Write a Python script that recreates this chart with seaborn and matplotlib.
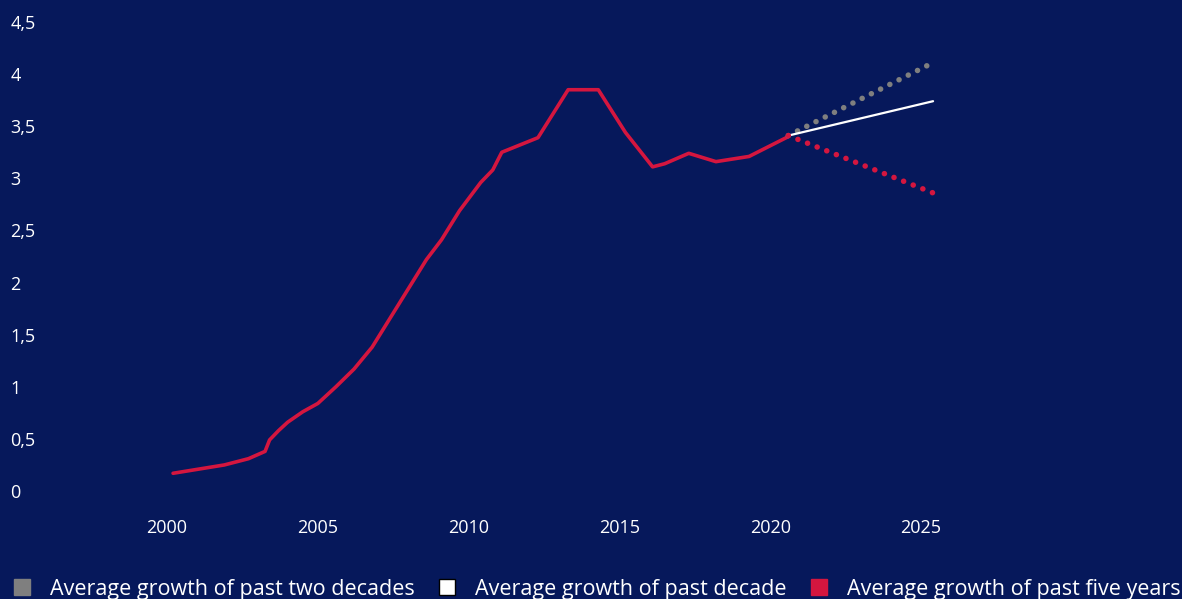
import pandas as pd
import matplotlib.pyplot as plt
import seaborn as sns
from matplotlib.lines import Line2D

# historical series
years = [2000.2, 2001.9, 2002.7, 2003.25, 2003.4, 2003.7, 2004.0, 2004.5, 2005.0, 2005.6,
         2006.2, 2006.8, 2007.7, 2008.6, 2009.1, 2009.7, 2010.4, 2010.8, 2011.1, 2012.3,
         2013.3, 2014.3, 2015.2, 2016.1, 2016.5, 2017.3, 2018.2, 2019.3, 2020.6]
values = [0.17, 0.25, 0.31, 0.38, 0.49, 0.58, 0.66, 0.76, 0.84, 1.00,
          1.17, 1.38, 1.80, 2.22, 2.41, 2.69, 2.96, 3.08, 3.25, 3.39,
          3.85, 3.85, 3.44, 3.11, 3.14, 3.24, 3.16, 3.21, 3.40]

# projections to 2025
proj_years = [2020.6, 2025.4]
two_decades = [3.41, 4.11]
one_decade = [3.41, 3.74]
five_years = [3.41, 2.86]

ytick_vals = [0, 0.5, 1, 1.5, 2, 2.5, 3, 3.5, 4, 4.5]
ytick_labels = ["0", "0,5", "1", "1,5", "2", "2,5", "3", "3,5", "4", "4,5"]
xtick_vals = [2000, 2005, 2010, 2015, 2020, 2025]
legend_labels = ["Average growth of past two decades",
                 "Average growth of past decade",
                 "Average growth of past five years"]

bg = "#06185B"
red = "#D4163F"
grey = "#7F7F7F"

sns.set_style("white", {"axes.facecolor": bg, "figure.facecolor": bg})
plt.rcParams["font.family"] = ["Open Sans", "DejaVu Sans"]

fig = plt.figure(figsize=(11.82, 5.99), dpi=100)
ax = fig.add_axes([0.1158, 0.1803, 0.6889, 0.7830])

hist = pd.DataFrame({"year": years, "value": values})
sns.lineplot(data=hist, x="year", y="value", ax=ax, color=red, lw=2.6,
             solid_joinstyle="round", solid_capstyle="round")

proj = pd.DataFrame({"year": proj_years, "a": two_decades, "b": one_decade, "c": five_years})
sns.lineplot(data=proj, x="year", y="a", ax=ax, color=grey, lw=4.0,
             linestyle=(0, (0.01, 1.85)), dash_capstyle="round")
sns.lineplot(data=proj, x="year", y="b", ax=ax, color="white", lw=1.6)
sns.lineplot(data=proj, x="year", y="c", ax=ax, color=red, lw=4.0,
             linestyle=(0, (0.01, 1.85)), dash_capstyle="round")

ax.set_xlim(1999, 2026)
ax.set_ylim(0, 4.5)
ax.set_xticks(xtick_vals)
ax.set_xticklabels([str(v) for v in xtick_vals])
ax.set_yticks(ytick_vals)
ax.set_yticklabels(ytick_labels, ha="left")
ax.set_xlabel("")
ax.set_ylabel("")
ax.tick_params(axis="y", length=0, pad=91, labelsize=13, labelcolor="white")
ax.tick_params(axis="x", length=0, pad=20, labelsize=13, labelcolor="white")
for s in ax.spines.values():
    s.set_visible(False)

handles = [
    Line2D([], [], ls="", marker="s", ms=11, mfc=grey, mec=grey),
    Line2D([], [], ls="", marker="s", ms=11, mfc="white", mec="black", mew=1),
    Line2D([], [], ls="", marker="s", ms=11, mfc=red, mec=red),
]
fig.legend(handles, legend_labels, loc="center left", bbox_to_anchor=(0.002, 0.016),
           ncol=3, frameon=False, fontsize=15.5, labelcolor="white",
           handlelength=1.0, handletextpad=0.8, columnspacing=1.0, borderaxespad=0)

fig.savefig("out.png", dpi=100, facecolor=bg)
